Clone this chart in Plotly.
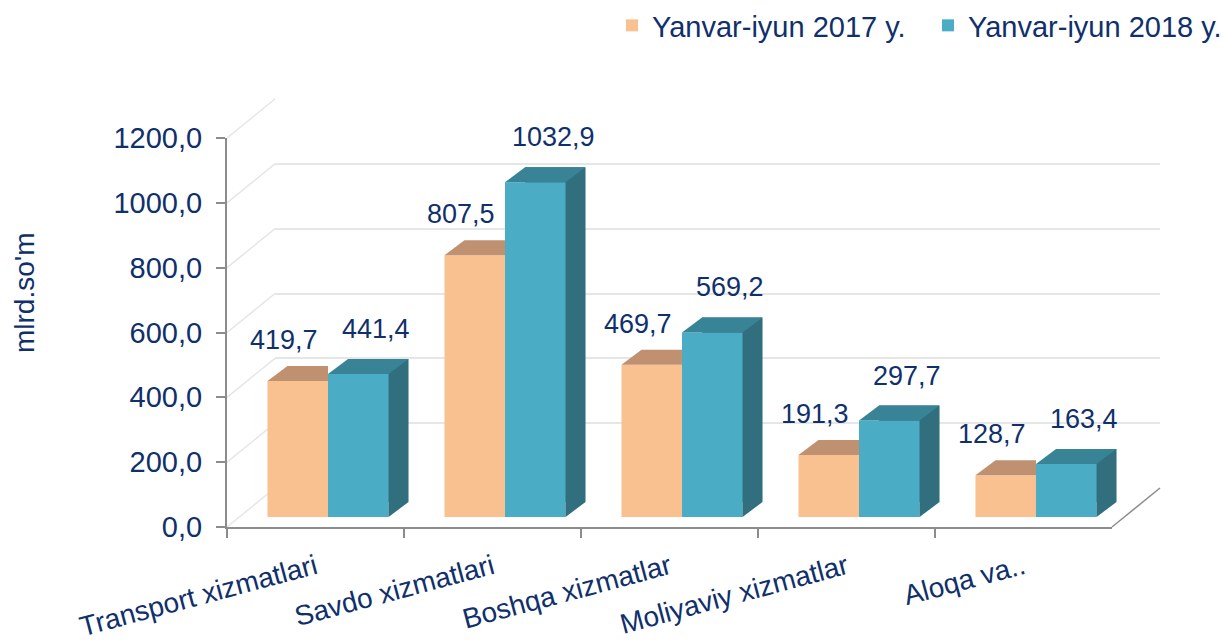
import plotly.graph_objects as go

# ---------------- data ----------------
categories = ["Transport xizmatlari", "Savdo xizmatlari", "Boshqa xizmatlar",
              "Moliyaviy xizmatlar", "Aloqa va.."]
values_2017 = [419.7, 807.5, 469.7, 191.3, 128.7]
values_2018 = [441.4, 1032.9, 569.2, 297.7, 163.4]
series_names = ["Yanvar-iyun 2017 y.", "Yanvar-iyun 2018 y."]
y_tick_values = [0, 200, 400, 600, 800, 1000, 1200]
y_tick_labels = ["0,0", "200,0", "400,0", "600,0", "800,0", "1000,0", "1200,0"]
y_title = "mlrd.so'm"

# ---------------- style / geometry ----------------
W, H = 1227, 644
FX0, FX1 = 227, 1112          # front plane x extent (px)
FY0, FY1 = 527, 138           # front plane y for 0 and YMAX (px)
YMAX = 1200
WALL_DX, WALL_DY = 48, 39     # depth of the whole 3D box
BAR_DX, BAR_DY = 12.5, 10     # bars' front face offset into the box
DEP_DX, DEP_DY = 20, 15       # bar depth
BAR_W = 0.342                 # bar width in category units
CAT_PX = (FX1 - FX0) / len(categories)
BAR_PX = BAR_W * CAT_PX

FONT = "Liberation Sans, Arial, sans-serif"
NAVY = "#10306B"
AXIS_GRAY = "#8C8C8C"
GRID_GRAY = "#E6E6E6"
OR_FRONT, OR_TOP = "#F9C190", "#BF9170"
BL_FRONT, BL_TOP, BL_SIDE = "#4BACC6", "#388496", "#316F7E"


def xdom(dx):
    return [(FX0 + dx) / W, (FX1 + dx) / W]


def ydom(dy):
    return [(H - (FY0 - dy)) / H, (H - (FY1 - dy)) / H]


def fmt(v):
    return f"{v:.1f}".replace(".", ",")


fig = go.Figure()

# front axes carrier (xy)
fig.add_trace(go.Scatter(x=categories, y=[0] * len(categories), mode="markers",
                         marker=dict(size=1, opacity=0), showlegend=False,
                         hoverinfo="skip", xaxis="x", yaxis="y"))
# back wall carrier (x2y2)
fig.add_trace(go.Scatter(x=categories, y=[0] * len(categories), mode="markers",
                         marker=dict(size=1, opacity=0), showlegend=False,
                         hoverinfo="skip", xaxis="x2", yaxis="y2"))
# back faces of 2018 bars -> visible as side faces (x3y3)
fig.add_trace(go.Bar(x=categories, y=values_2018, offset=0, width=BAR_W,
                     marker=dict(color=BL_SIDE, line=dict(width=0)),
                     showlegend=False, hoverinfo="skip", xaxis="x3", yaxis="y3"))
# front faces (x4y4)
fig.add_trace(go.Bar(x=categories, y=values_2017, offset=-BAR_W, width=BAR_W,
                     name=series_names[0], legend="legend",
                     marker=dict(color=OR_FRONT, line=dict(width=0)),
                     xaxis="x4", yaxis="y4"))
fig.add_trace(go.Bar(x=categories, y=values_2018, offset=0, width=BAR_W,
                     name=series_names[1], legend="legend2",
                     marker=dict(color=BL_FRONT, line=dict(width=0)),
                     xaxis="x4", yaxis="y4"))

shapes = []
# left wall diagonals and floor
for v in y_tick_values:
    shapes.append(dict(type="line", xref="x domain", yref="y domain",
                       xsizemode="pixel", ysizemode="pixel",
                       xanchor=0, yanchor=v / YMAX,
                       x0=0, x1=WALL_DX, y0=0, y1=WALL_DY,
                       line=dict(color=GRID_GRAY, width=1.5), layer="below"))
shapes.append(dict(type="line", xref="x domain", yref="y domain",
                   xsizemode="pixel", ysizemode="pixel",
                   xanchor=1, yanchor=0, x0=0, x1=WALL_DX, y0=0, y1=WALL_DY,
                   line=dict(color=AXIS_GRAY, width=1.5), layer="below"))

# bar top / side faces
for i, (v17, v18) in enumerate(zip(values_2017, values_2018)):
    shapes.append(dict(type="path", xref="x4", yref="y4",
                       xsizemode="pixel", ysizemode="pixel",
                       xanchor=i - BAR_W, yanchor=v17,
                       path=f"M0,0 L{BAR_PX:.2f},0 L{BAR_PX:.2f},{DEP_DY} L{DEP_DX},{DEP_DY} Z",
                       fillcolor=OR_TOP, line=dict(width=0), layer="above"))
    shapes.append(dict(type="path", xref="x4", yref="y4",
                       xsizemode="pixel", ysizemode="pixel",
                       xanchor=i, yanchor=v18,
                       path=f"M0,0 L{BAR_PX:.2f},0 L{BAR_PX + DEP_DX:.2f},{DEP_DY} L{DEP_DX},{DEP_DY} Z",
                       fillcolor=BL_TOP, line=dict(width=0), layer="above"))
    shapes.append(dict(type="path", xref="x4", yref="y4",
                       xsizemode="pixel", ysizemode="pixel",
                       xanchor=i + BAR_W, yanchor=0,
                       path=f"M0,0 L{DEP_DX},{DEP_DY} L0,{DEP_DY} Z",
                       fillcolor=BL_SIDE, line=dict(width=0), layer="above"))

annotations = []
for i, (v17, v18) in enumerate(zip(values_2017, values_2018)):
    annotations.append(dict(xref="x4", yref="y4", x=i - BAR_W / 2, y=v17,
                            text=fmt(v17), showarrow=False, yanchor="bottom",
                            xshift=-14, yshift=24,
                            font=dict(size=27, color=NAVY, family=FONT)))
    annotations.append(dict(xref="x4", yref="y4", x=i + BAR_W / 2, y=v18,
                            text=fmt(v18), showarrow=False, yanchor="bottom",
                            xshift=18, yshift=28,
                            font=dict(size=27, color=NAVY, family=FONT)))
annotations.append(dict(xref="paper", yref="paper", x=24 / W, y=(H - 293) / H,
                        text=y_title, textangle=-90, showarrow=False,
                        xanchor="center", yanchor="middle",
                        font=dict(size=28, color=NAVY, family=FONT)))

legend_style = dict(orientation="h", y=1.0, yanchor="top", xanchor="right",
                    font=dict(size=29, color=NAVY, family=FONT),
                    bgcolor="rgba(0,0,0,0)")

hidden = dict(visible=False, automargin=False)
fig.update_layout(
    width=W, height=H,
    margin=dict(l=0, r=0, t=0, b=0, autoexpand=False),
    paper_bgcolor="white", plot_bgcolor="rgba(0,0,0,0)",
    barmode="overlay",
    font=dict(family=FONT, color=NAVY),
    showlegend=True,
    legend=dict(x=911 / W, **legend_style),
    legend2=dict(x=1.0, **legend_style),
    xaxis=dict(domain=xdom(0), anchor="y", type="category", automargin=False,
               categoryarray=categories, categoryorder="array",
               range=[-0.5, len(categories) - 0.5],
               showline=True, linecolor=AXIS_GRAY, linewidth=2,
               ticks="outside", tickson="boundaries", ticklen=9, tickwidth=2,
               tickcolor=AXIS_GRAY, tickangle=-15, ticklabelstandoff=11,
               tickfont=dict(size=28, color=NAVY, family=FONT),
               showgrid=False, zeroline=False),
    yaxis=dict(domain=ydom(0), anchor="x", range=[0, YMAX], automargin=False,
               tickvals=y_tick_values, ticktext=y_tick_labels,
               showline=True, linecolor=AXIS_GRAY, linewidth=2,
               ticks="outside", ticklen=9, tickwidth=2, tickcolor=AXIS_GRAY,
               tickfont=dict(size=29, color=NAVY, family=FONT),
               ticklabelstandoff=8,
               showgrid=False, zeroline=False),
    xaxis2=dict(domain=xdom(WALL_DX), anchor="y2", type="category", automargin=False,
                range=[-0.5, len(categories) - 0.5], showgrid=False,
                showline=False, showticklabels=False, ticks="", zeroline=False),
    yaxis2=dict(domain=ydom(WALL_DY), anchor="x2", range=[0, YMAX], automargin=False,
                tickvals=y_tick_values, showgrid=True, gridcolor=GRID_GRAY,
                gridwidth=1.5, showline=False, showticklabels=False, ticks="",
                zeroline=False),
    xaxis3=dict(domain=xdom(BAR_DX + DEP_DX), anchor="y3", type="category",
                range=[-0.5, len(categories) - 0.5], **hidden),
    yaxis3=dict(domain=ydom(BAR_DY + DEP_DY), anchor="x3", range=[0, YMAX], **hidden),
    xaxis4=dict(domain=xdom(BAR_DX), anchor="y4", type="category",
                range=[-0.5, len(categories) - 0.5], **hidden),
    yaxis4=dict(domain=ydom(BAR_DY), anchor="x4", range=[0, YMAX], **hidden),
    shapes=shapes,
    annotations=annotations,
)

fig.write_html("out.html")
